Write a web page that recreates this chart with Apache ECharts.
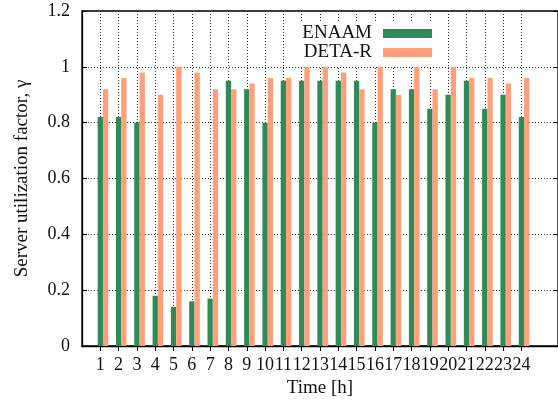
<!DOCTYPE html>
<html>
<head>
<meta charset="utf-8">
<style>
  html, body { margin: 0; padding: 0; background: #fff; }
  #chart { width: 558px; height: 405px; }
</style>
<script src="https://cdn.jsdelivr.net/npm/echarts@6/dist/echarts.min.js"></script>
</head>
<body>
<div id="chart"></div>
<script>
// Hours of the day (x categories)
const hours = ['1','2','3','4','5','6','7','8','9','10','11','12',
               '13','14','15','16','17','18','19','20','21','22','23','24'];
// Server utilization factor per hour
const enaam = [0.82,0.82,0.80,0.18,0.14,0.16,0.17,0.95,0.92,0.80,0.95,0.95,
               0.95,0.95,0.95,0.80,0.92,0.92,0.85,0.90,0.95,0.85,0.90,0.82];
const detaR = [0.92,0.96,0.98,0.90,1.00,0.98,0.92,0.92,0.94,0.96,0.96,1.00,
               1.00,0.98,0.92,1.00,0.90,1.00,0.92,1.00,0.96,0.96,0.94,0.96];
const yTicks = { min: 0, max: 1.2, step: 0.2 };

// The x axis runs from 0 to 26 with hours sitting on whole positions
const axisCats = [''].concat(hours, ['', '']);
const pad = arr => [null].concat(arr, [null, null]);
const isHour = idx => idx >= 1 && idx <= hours.length;

const FONT = 'Liberation Serif';
const GREEN = '#2e8b57';
const SALMON = '#ffa07a';
const dotted = { color: '#333', width: 1, type: [1, 2] };

const chart = echarts.init(document.getElementById('chart'), null, { renderer: 'canvas' });

chart.setOption({
  animation: false,
  backgroundColor: '#fff',
  textStyle: { fontFamily: FONT, color: '#000' },
  grid: {
    left: 82, top: 11, right: -1, bottom: 59,
    show: true, borderColor: '#000', borderWidth: 1.3, backgroundColor: 'transparent'
  },
  legend: {
    data: ['ENAAM', 'DETA-R'],
    orient: 'vertical',
    align: 'right',
    left: 291, top: 21,
    padding: [3, 4, 4, 5],
    itemGap: 0,
    itemWidth: 49, itemHeight: 9,
    backgroundColor: '#fff',
    icon: 'rect',
    textStyle: {
      fontFamily: FONT, fontSize: 19, lineHeight: 17, color: '#111',
      width: 76, align: 'right', padding: [0, 6, 0, 0]
    }
  },
  xAxis: [{
    type: 'category',
    data: axisCats,
    boundaryGap: false,
    position: 'bottom',
    name: 'Time [h]',
    nameLocation: 'middle',
    nameGap: 32,
    nameTextStyle: { fontFamily: FONT, fontSize: 19, color: '#111' },
    axisLine: { show: true, lineStyle: { color: '#000', width: 1.3 } },
    axisTick: { show: true, inside: true, length: 5, interval: isHour, lineStyle: { color: '#000' } },
    axisLabel: { interval: isHour, margin: 10, fontFamily: FONT, fontSize: 18, color: '#111' },
    splitLine: { show: true, interval: isHour, lineStyle: dotted }
  }, {
    type: 'category',
    data: axisCats,
    boundaryGap: false,
    position: 'top',
    axisLine: { show: false },
    axisTick: { show: true, inside: true, length: 5, interval: isHour, lineStyle: { color: '#000' } },
    axisLabel: { show: false },
    splitLine: { show: false }
  }],
  yAxis: [{
    type: 'value',
    min: yTicks.min, max: yTicks.max, interval: yTicks.step,
    name: 'Server utilization factor, γ',
    nameLocation: 'middle',
    nameGap: 50,
    nameTextStyle: { fontFamily: FONT, fontSize: 19, color: '#111' },
    axisLine: { show: true, lineStyle: { color: '#000', width: 1.3 } },
    axisTick: { show: true, inside: true, length: 5, lineStyle: { color: '#000' } },
    axisLabel: { margin: 12, fontFamily: FONT, fontSize: 18, color: '#111' },
    splitLine: { show: true, lineStyle: dotted }
  }, {
    type: 'value',
    min: yTicks.min, max: yTicks.max, interval: yTicks.step,
    position: 'right',
    axisLine: { show: false },
    axisTick: { show: true, inside: true, length: 5, lineStyle: { color: '#000' } },
    axisLabel: { show: false },
    splitLine: { show: false }
  }],
  series: [
    // empty slot on the left so each ENAAM bar is centred on its hour tick
    { name: 'slot', type: 'bar', data: [], barWidth: 5.3, barGap: '0%' },
    { name: 'ENAAM', type: 'bar', data: pad(enaam), barWidth: 5.3, barGap: '0%',
      itemStyle: { color: GREEN } },
    { name: 'DETA-R', type: 'bar', data: pad(detaR), barWidth: 5.3, barGap: '0%',
      itemStyle: { color: SALMON } }
  ]
});
</script>
</body>
</html>
